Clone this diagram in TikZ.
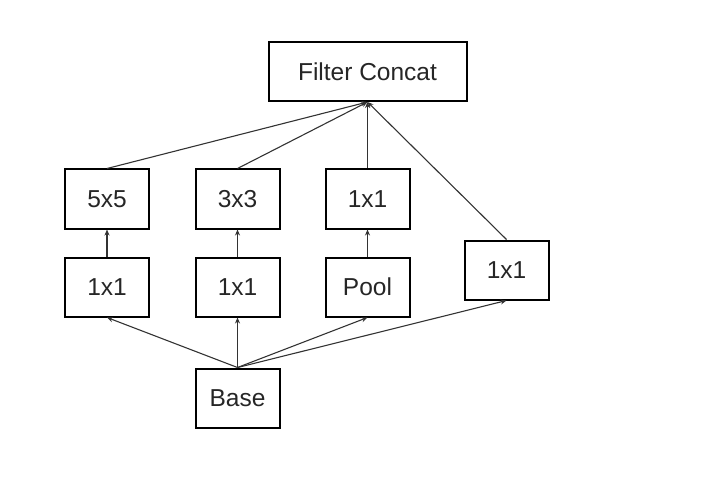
\documentclass[tikz,border=0pt]{standalone}
\usepackage{fontspec}
\setmainfont{Liberation Sans}
\usetikzlibrary{arrows.meta}

\begin{document}
\begin{tikzpicture}
  [x=1pt,y=-1pt,
   every node/.style={draw=black,line width=2pt,minimum width=84pt,minimum height=59pt,
     inner sep=0pt,text=black!85,font=\fontsize{24.5}{28}\selectfont},
   link/.style={draw=black!80,line width=1.1pt,-{Stealth[length=6pt,width=5pt]}}]
  \useasboundingbox (0,0) rectangle (706,497);

  \node (concat) at (367.5,71.5) [minimum width=198pt] {Filter Concat};
  \node (c5)   at (107,199)   {5x5};
  \node (c3)   at (237.5,199) {3x3};
  \node (c1)   at (367.5,199) {1x1};
  \node (r5)   at (107,287)   {1x1};
  \node (r3)   at (237.5,287) {1x1};
  \node (pool) at (367.5,287) {Pool};
  \node (c1b)  at (506.5,270) {1x1};
  \node (base) at (237.5,398) {Base};

  \foreach \from/\to in {r5/c5,r3/c3,pool/c1}
    \draw[link] (\from) -- (\to);

  \foreach \from in {c5,c3,c1,c1b}
    \draw[link] (\from.north) -- (concat.south);

  \foreach \to in {r5,r3,pool,c1b}
    \draw[link] (base.north) -- (\to.south);

\end{tikzpicture}
\end{document}
